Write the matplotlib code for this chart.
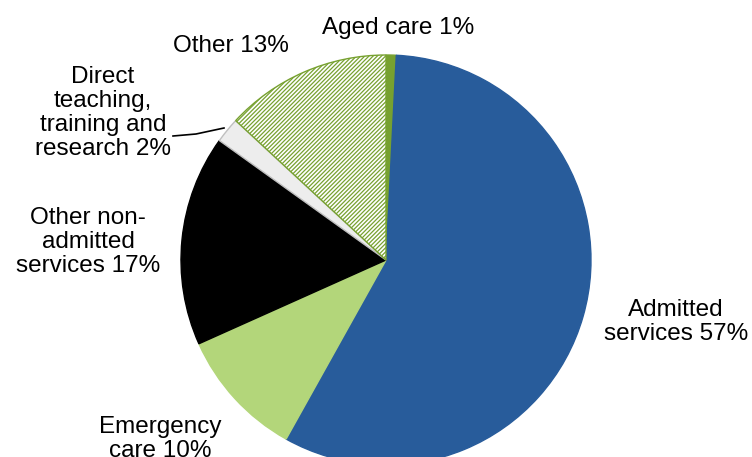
import matplotlib
matplotlib.use("Agg")
import matplotlib.pyplot as plt

categories = ["Aged care", "Admitted services", "Emergency care",
              "Other non-admitted services", "Direct teaching, training and research", "Other"]
values = [0.8, 57.3, 10.2, 16.6, 2.0, 13.1]
labels = ["Aged care 1%", "Admitted\nservices 57%", "Emergency\ncare 10%",
          "Other non-\nadmitted\nservices 17%", "Direct\nteaching,\ntraining and\nresearch 2%", "Other 13%"]
colors = ["#77a130", "#285c9b", "#b3d67a", "#000000", "#ededed", "#ffffff"]
edges = ["#77a130", "#285c9b", "#b3d67a", "#000000", "#bfbfbf", "#77a130"]

plt.rcParams['font.family'] = ['Liberation Sans', 'DejaVu Sans']
plt.rcParams['hatch.linewidth'] = 0.9

W, H = 752, 457
fig = plt.figure(figsize=(W/100, H/100), dpi=100)
ax = fig.add_axes([0, 0, 1, 1])

wedges, _ = ax.pie(values, center=(386, H-260), radius=205, startangle=90,
                   counterclock=False, colors=colors,
                   wedgeprops=dict(linewidth=1.0))
for w, ec in zip(wedges, edges):
    w.set_edgecolor(ec)
wedges[5].set_hatch('////////')

fs = 17.5
ls = 1.12
ax.text(398, H-28, labels[0], ha='center', va='center', fontsize=fs)
ax.text(676, H-322, labels[1], ha='center', va='center', fontsize=fs, linespacing=ls)
ax.text(160, H-439, labels[2], ha='center', va='center', fontsize=fs, linespacing=ls)
ax.text(88, H-242, labels[3], ha='center', va='center', fontsize=fs, linespacing=ls)
ax.text(103, H-113, labels[4], ha='center', va='center', fontsize=fs, linespacing=ls)
ax.text(231, H-46, labels[5], ha='center', va='center', fontsize=fs)
ax.plot([173, 196, 224], [H-136, H-134, H-128], color='black', lw=1.2)

ax.set_xlim(0, W)
ax.set_ylim(0, H)
ax.set_aspect('equal')
ax.axis('off')
fig.savefig("out.png", dpi=100)
